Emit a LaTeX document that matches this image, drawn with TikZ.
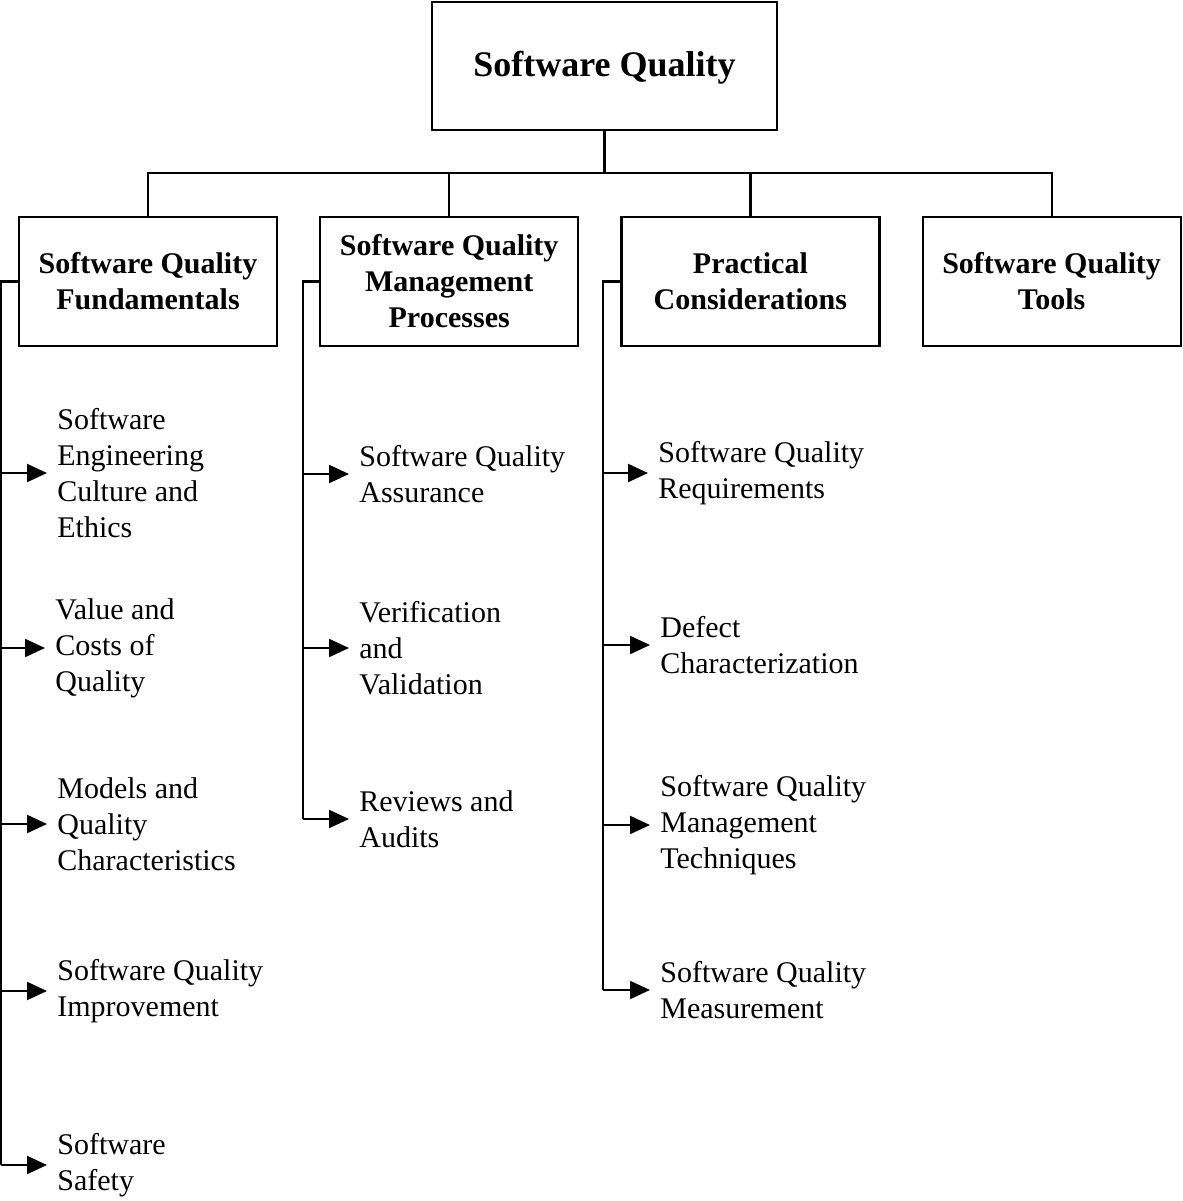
\documentclass[tikz,border=0pt]{standalone}
\usepackage{fontspec}
\setmainfont{Liberation Serif}
\usepackage{xcolor}
\usepackage{tikz}
\usetikzlibrary{arrows.meta, positioning}

\begin{document}
\begin{tikzpicture}[
        x=0.5pt, y=-0.5pt,
        box/.style={
            rectangle,
            draw=black,
            line width=1.1pt,
            align=center,
            minimum width=129pt,
            minimum height=64.5pt,
            font=\bfseries\fontsize{15}{18}\selectfont
        },
        item/.style={
            anchor=west,
            align=left,
            inner xsep=5pt,
            inner ysep=0pt,
            font=\fontsize{15}{18}\selectfont
        },
        line/.style={
            line width=1.1pt,
            draw=black
        },
        arrow/.style={
            -{Triangle[length=10pt, width=9pt]},
            line width=1.1pt
        }
    ]
        \useasboundingbox (0,0) rectangle (1183,1201);

        % Nodes
        \node[box, minimum width=172.5pt, minimum height=64pt, text depth=2pt,
              font=\bfseries\fontsize{18}{21}\selectfont] (root) at (604.5,66) {Software Quality};
        \node[box] (fund) at (148,281.5) {Software Quality\\Fundamentals};
        \node[box, right=20.5pt of fund] (mgmt) {Software Quality\\Management\\Processes};
        \node[box, right=20.5pt of mgmt] (prac) {Practical\\Considerations};
        \node[box, right=20.5pt of prac] (tools) {Software Quality\\Tools};

        % Fundamentals items
        \node[item] (f1) at (47,473) {Software\\Engineering\\Culture and\\Ethics};
        \node[item] (f2) at (45,648) {Value and\\Costs of\\Quality};
        \node[item] (f3) at (47,824) {Models and\\Quality\\Characteristics};
        \node[item] (f4) at (47,991) {Software Quality\\Improvement};
        \node[item] (f5) at (47,1165) {Software\\Safety};

        % Management items
        \node[item] (m1) at (349,474) {Software Quality\\Assurance};
        \node[item] (m2) at (349,648) {Verification\\and\\Validation};
        \node[item] (m3) at (349,819) {Reviews and\\Audits};

        % Practical items
        \node[item] (p1) at (648,473) {Software Quality\\Requirements};
        \node[item] (p2) at (650,645) {Defect\\Characterization};
        \node[item] (p3) at (650,825) {Software Quality\\Management\\Techniques};
        \node[item] (p4) at (650,990) {Software Quality\\Measurement};

        % Tree lines
        \coordinate (bus) at (604.5,173);
        \draw[line] (root.south) -- (bus);
        \draw[line] (fund.north) |- (bus) -| (tools.north);
        \draw[line] (mgmt.north) -- (mgmt.north |- bus);
        \draw[line] (prac.north) -- (prac.north |- bus);

        % Spines
        \draw[line] (fund.west) -- ++(-17,0) coordinate (fundtop) -- (fundtop |- f5.west);
        \draw[line] (mgmt.west) -- ++(-16,0) coordinate (mgmttop) -- (mgmttop |- m3.west);
        \draw[line] (prac.west) -- ++(-17,0) coordinate (practop) -- (practop |- p4.west);

        % Arrows
        \foreach \n in {f1,f2,f3,f4,f5}
            \draw[arrow] (fundtop |- \n.west) -- (\n.west);
        \foreach \n in {m1,m2,m3}
            \draw[arrow] (mgmttop |- \n.west) -- (\n.west);
        \foreach \n in {p1,p2,p3,p4}
            \draw[arrow] (practop |- \n.west) -- (\n.west);
    \end{tikzpicture}
\end{document}
